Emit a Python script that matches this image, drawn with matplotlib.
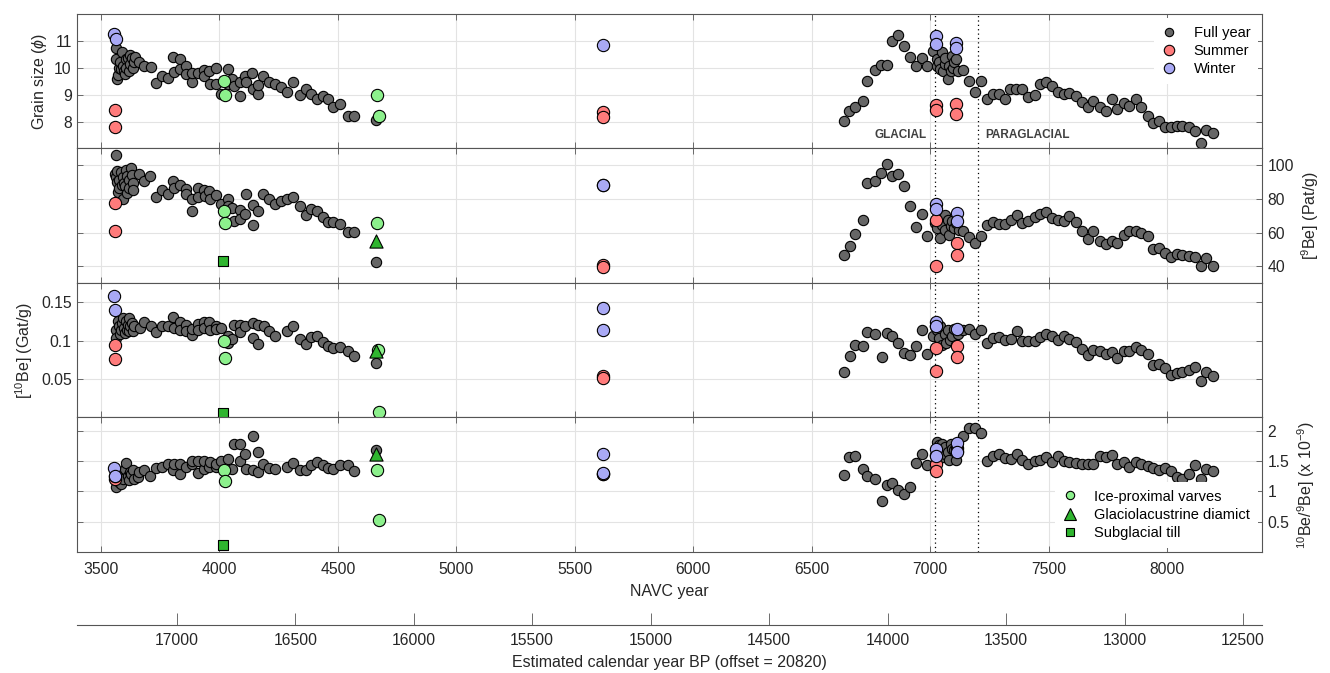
import numpy as np
import matplotlib
matplotlib.use("Agg")
import matplotlib.pyplot as plt
from matplotlib.lines import Line2D
from matplotlib.ticker import FuncFormatter

plt.rcParams['font.family'] = ['Liberation Sans', 'DejaVu Sans']
plt.rcParams['mathtext.fontset'] = 'custom'
plt.rcParams['mathtext.rm'] = 'Liberation Sans'
plt.rcParams['mathtext.it'] = 'Liberation Sans:italic'

OFFSET = 20820
BOUNDARIES = [7020, 7200]

# ---------------- grain size (phi) ----------------
grain_full = np.array([
    (3564, 10.72), (3564, 10.32), (3566, 9.58), (3570, 9.75), (3575, 10.0), (3579, 10.2),
    (3583, 9.95), (3589, 10.59), (3592, 10.07), (3598, 9.89), (3602, 9.77), (3604, 10.32),
    (3607, 10.01), (3613, 10.38), (3617, 9.89), (3621, 10.14), (3623, 10.47), (3630, 10.38),
    (3636, 10.01), (3640, 10.23), (3645, 10.4), (3660, 10.2), (3683, 10.07), (3711, 10.04),
    (3734, 9.43), (3758, 9.68), (3783, 9.62), (3806, 10.42), (3809, 9.83), (3834, 10.32),
    (3834, 9.95), (3859, 10.07), (3859, 9.77), (3885, 9.46), (3885, 9.8), (3909, 9.8),
    (3934, 9.93), (3934, 9.68), (3957, 9.89), (3960, 9.4), (3985, 9.99), (3985, 9.4),
    (4008, 9.02), (4036, 9.95), (4036, 9.4), (4055, 9.58), (4060, 9.31), (4085, 8.96),
    (4085, 9.48), (4108, 9.7), (4112, 9.48), (4136, 9.8), (4140, 9.23), (4164, 9.02),
    (4164, 9.36), (4183, 9.7), (4208, 9.46), (4236, 9.4), (4259, 9.3), (4283, 9.11),
    (4310, 9.49), (4338, 9.0), (4364, 9.21), (4385, 9.02), (4410, 8.84), (4436, 8.94),
    (4460, 8.84), (4481, 8.56), (4508, 8.65), (4542, 8.22), (4566, 8.22), (4660, 8.07),
    (6637, 8.04), (6657, 8.38), (6683, 8.54), (6716, 8.77), (6734, 9.51), (6765, 9.93),
    (6793, 10.12), (6817, 10.12), (6839, 10.98), (6862, 11.23), (6890, 10.81), (6914, 10.42),
    (6940, 10.07), (6963, 10.35), (6987, 10.07), (7013, 10.63), (7028, 10.32), (7030, 10.05),
    (7037, 10.2), (7042, 9.95), (7050, 10.57), (7055, 9.89), (7060, 10.15), (7064, 10.38),
    (7074, 9.58), (7079, 10.07), (7086, 9.89), (7092, 10.44), (7095, 10.0), (7101, 10.2),
    (7110, 10.32), (7115, 9.89), (7138, 9.93), (7165, 9.52), (7187, 9.1), (7215, 9.52),
    (7239, 8.84), (7266, 9.02), (7290, 9.02), (7316, 8.84), (7336, 9.2), (7363, 9.2),
    (7389, 9.2), (7413, 8.9), (7440, 9.0), (7464, 9.4), (7490, 9.46), (7514, 9.31),
    (7538, 9.11), (7563, 9.02), (7587, 9.05), (7615, 8.96), (7639, 8.72), (7666, 8.53),
    (7688, 8.78), (7716, 8.56), (7740, 8.41), (7765, 8.84), (7789, 8.47), (7817, 8.68),
    (7839, 8.57), (7866, 8.84), (7890, 8.53), (7917, 8.22), (7941, 7.95), (7967, 8.04),
    (7991, 7.79), (8015, 7.79), (8040, 7.83), (8064, 7.85), (8092, 7.79), (8116, 7.64),
    (8141, 7.2), (8165, 7.67), (8193, 7.57)])
grain_summer = np.array([(3558, 8.44), (3560, 7.81), (5620, 8.35), (5620, 8.16),
                         (7024, 8.62), (7024, 8.43), (7110, 8.65), (7110, 8.28)])
grain_winter = np.array([(3557, 11.27), (3562, 11.06), (5620, 10.84),
                         (7022, 11.19), (7022, 10.9), (7110, 10.94), (7110, 10.75)])
grain_varve = np.array([(4019, 9.51), (4023, 8.99), (4664, 8.99), (4672, 8.2)])

# ---------------- [9Be] (Pat/g) ----------------
be9_full = np.array([
    (3564, 106.3), (3558, 94.9), (3564, 93.0), (3566, 96.4), (3566, 90.0), (3570, 84.0),
    (3575, 91.5), (3575, 86.5), (3583, 96.0), (3588, 88.0), (3592, 93.0), (3594, 80.2),
    (3598, 89.5), (3600, 87.5), (3606, 97.4), (3610, 83.5), (3611, 93.9), (3617, 91.5),
    (3619, 86.5), (3626, 98.4), (3630, 94.5), (3634, 89.5), (3634, 85.2), (3660, 94.9),
    (3683, 90.5), (3708, 93.9), (3734, 81.0), (3758, 85.2), (3783, 83.2), (3806, 90.5),
    (3809, 86.5), (3834, 88.5), (3859, 85.9), (3859, 83.2), (3885, 80.0), (3885, 72.7),
    (3909, 86.5), (3909, 81.2), (3934, 85.5), (3938, 82.0), (3957, 84.6), (3960, 80.2),
    (3985, 82.6), (4008, 77.2), (4036, 80.0), (4036, 75.6), (4055, 74.7), (4060, 67.1),
    (4085, 73.7), (4085, 68.1), (4108, 71.3), (4112, 83.2), (4140, 76.6), (4140, 64.4),
    (4164, 73.1), (4183, 83.2), (4208, 80.0), (4236, 77.0), (4259, 78.6), (4283, 80.2),
    (4310, 81.2), (4338, 76.0), (4364, 70.7), (4385, 74.3), (4410, 72.7), (4436, 69.1),
    (4460, 66.3), (4481, 66.3), (4508, 64.8), (4542, 60.2), (4566, 60.4), (4660, 42.6),
    (6637, 46.5), (6661, 52.3), (6683, 59.4), (6716, 67.7), (6734, 89.5), (6765, 90.5),
    (6793, 95.4), (6817, 101.0), (6839, 93.5), (6862, 95.0), (6890, 87.5), (6914, 76.0),
    (6940, 63.4), (6963, 71.3), (6987, 57.8), (7018, 65.7), (7028, 62.8), (7037, 67.7),
    (7042, 56.8), (7050, 64.2), (7061, 70.7), (7064, 61.8), (7074, 67.7), (7079, 58.8),
    (7086, 63.8), (7092, 66.7), (7101, 62.8), (7110, 65.7), (7119, 61.8), (7138, 60.8),
    (7165, 57.4), (7187, 53.9), (7215, 58.2), (7239, 64.4), (7266, 66.1), (7290, 65.3),
    (7316, 64.8), (7339, 67.3), (7367, 70.7), (7389, 65.7), (7413, 66.7), (7440, 69.3),
    (7464, 71.3), (7490, 72.1), (7514, 68.7), (7541, 67.7), (7563, 67.1), (7587, 69.7),
    (7615, 66.1), (7639, 60.8), (7666, 56.4), (7688, 60.8), (7716, 54.9), (7740, 53.3),
    (7765, 54.9), (7789, 53.9), (7817, 58.8), (7839, 60.8), (7866, 60.8), (7890, 59.8),
    (7917, 57.8), (7941, 50.5), (7967, 50.9), (7991, 47.9), (8015, 45.5), (8040, 47.5),
    (8064, 46.9), (8092, 46.3), (8116, 45.5), (8141, 40.4), (8165, 44.6), (8193, 40.0)])
be9_summer = np.array([(3560, 77.6), (3558, 60.8), (5620, 41.0), (5620, 39.6),
                       (7022, 67.7), (7024, 40.4), (7112, 53.9), (7112, 46.9)])
be9_winter = np.array([(5620, 88.5), (5620, 88.0), (7022, 77.2), (7024, 74.1),
                       (7112, 71.7), (7112, 66.7)])
be9_varve = np.array([(4019, 73.1), (4023, 65.7), (4664, 65.7)])
be9_diamict = np.array([(4659, 54.9)])
be9_till = np.array([(4013, 43.0)])

# ---------------- [10Be] (Gat/g) ----------------
be10_full = np.array([
    (3564, 0.1135), (3564, 0.1035), (3570, 0.1252), (3575, 0.1187), (3580, 0.108),
    (3583, 0.1143), (3589, 0.123), (3594, 0.1296), (3598, 0.1165), (3600, 0.110),
    (3604, 0.1252), (3608, 0.1143), (3613, 0.1209), (3617, 0.1296), (3620, 0.112),
    (3623, 0.1187), (3630, 0.123), (3636, 0.1122), (3640, 0.1187), (3664, 0.1165),
    (3683, 0.124), (3711, 0.1187), (3734, 0.1108), (3758, 0.1195), (3783, 0.1195),
    (3806, 0.1309), (3809, 0.1165), (3834, 0.124), (3834, 0.1143), (3859, 0.12),
    (3859, 0.113), (3885, 0.1078), (3885, 0.1152), (3909, 0.1217), (3909, 0.1143),
    (3934, 0.124), (3934, 0.1165), (3957, 0.1243), (3960, 0.1143), (3985, 0.1187),
    (3985, 0.115), (4008, 0.1165), (4036, 0.1065), (4036, 0.097), (4055, 0.1022),
    (4060, 0.1209), (4085, 0.1209), (4085, 0.1108), (4108, 0.1187), (4140, 0.1035),
    (4140, 0.123), (4164, 0.1209), (4164, 0.096), (4187, 0.1187), (4211, 0.112),
    (4236, 0.1065), (4283, 0.112), (4310, 0.1195), (4338, 0.1022), (4364, 0.0956),
    (4385, 0.1048), (4410, 0.1065), (4436, 0.0982), (4460, 0.0926), (4481, 0.0904),
    (4508, 0.0917), (4542, 0.0861), (4566, 0.0804), (4660, 0.0708),
    (6637, 0.0591), (6661, 0.0804), (6683, 0.0939), (6716, 0.0926), (6734, 0.1113),
    (6765, 0.1091), (6795, 0.0787), (6817, 0.110), (6839, 0.1056), (6862, 0.0969),
    (6890, 0.0839), (6914, 0.0817), (6940, 0.0935), (6963, 0.1143), (6987, 0.083),
    (7013, 0.1056), (7018, 0.1187), (7028, 0.1143), (7037, 0.1035), (7042, 0.1187),
    (7050, 0.0948), (7061, 0.1087), (7068, 0.0969), (7074, 0.1143), (7083, 0.1013),
    (7092, 0.1065), (7101, 0.1152), (7110, 0.0948), (7115, 0.108), (7138, 0.1143),
    (7165, 0.1152), (7187, 0.1087), (7215, 0.1135), (7239, 0.0969), (7266, 0.1035),
    (7290, 0.1048), (7316, 0.1013), (7339, 0.1026), (7367, 0.113), (7389, 0.100),
    (7413, 0.100), (7440, 0.100), (7464, 0.1048), (7490, 0.1091), (7514, 0.1065),
    (7541, 0.1004), (7563, 0.1056), (7587, 0.1026), (7615, 0.0978), (7639, 0.0891),
    (7666, 0.0817), (7688, 0.0874), (7716, 0.0861), (7740, 0.083), (7765, 0.0848),
    (7789, 0.0774), (7817, 0.0861), (7839, 0.0861), (7866, 0.0913), (7890, 0.0874),
    (7917, 0.083), (7941, 0.0687), (7967, 0.070), (7991, 0.0643), (8015, 0.0556),
    (8040, 0.0578), (8064, 0.0591), (8092, 0.0613), (8116, 0.0652), (8141, 0.0478),
    (8165, 0.0591), (8193, 0.0535)])
be10_summer = np.array([(3560, 0.0939), (3558, 0.0765), (5620, 0.0543), (5620, 0.0508),
                        (7022, 0.0904), (7024, 0.060), (7112, 0.0926), (7112, 0.0782)])
be10_winter = np.array([(3557, 0.1578), (3560, 0.1404), (5620, 0.1426), (5620, 0.1143),
                        (7024, 0.1243), (7022, 0.1187), (7112, 0.1156)])
be10_varve = np.array([(4019, 0.0991), (4023, 0.0774), (4668, 0.0882), (4672, 0.0069)])
be10_diamict = np.array([(4659, 0.0861)])
be10_till = np.array([(4013, 0.0056)])

# ---------------- 10Be/9Be (x 1e-9) ----------------
ratio_full = np.array([
    (3564, 1.071), (3570, 1.236), (3575, 1.153), (3583, 1.12), (3589, 1.291),
    (3594, 1.208), (3602, 1.373), (3607, 1.467), (3612, 1.25), (3617, 1.181),
    (3621, 1.318), (3628, 1.29), (3636, 1.346), (3640, 1.208), (3655, 1.236),
    (3660, 1.318), (3683, 1.36), (3708, 1.26), (3734, 1.39), (3758, 1.41), (3783, 1.45),
    (3806, 1.35), (3809, 1.45), (3834, 1.29), (3834, 1.45), (3859, 1.41), (3885, 1.45),
    (3885, 1.50), (3909, 1.31), (3909, 1.51), (3934, 1.37), (3934, 1.51), (3957, 1.41),
    (3960, 1.48), (3985, 1.40), (3985, 1.46), (4008, 1.51), (4036, 1.54), (4055, 1.37),
    (4060, 1.78), (4085, 1.78), (4085, 1.51), (4108, 1.61), (4112, 1.37), (4140, 1.92),
    (4140, 1.36), (4164, 1.65), (4164, 1.32), (4183, 1.45), (4208, 1.39), (4236, 1.37),
    (4283, 1.40), (4310, 1.47), (4338, 1.36), (4364, 1.36), (4385, 1.43), (4410, 1.48),
    (4436, 1.43), (4460, 1.39), (4481, 1.37), (4508, 1.43), (4542, 1.43), (4566, 1.34),
    (4660, 1.69),
    (6637, 1.27), (6657, 1.56), (6683, 1.59), (6716, 1.37), (6734, 1.25), (6765, 1.21),
    (6795, 0.84), (6817, 1.10), (6839, 1.14), (6862, 1.03), (6890, 0.96), (6914, 1.08),
    (6940, 1.47), (6963, 1.62), (6987, 1.43), (7018, 1.60), (7028, 1.815), (7037, 1.76),
    (7042, 1.677), (7050, 1.787), (7055, 1.566), (7060, 1.62), (7064, 1.732),
    (7074, 1.649), (7079, 1.511), (7086, 1.787), (7092, 1.704), (7101, 1.677),
    (7110, 1.511), (7138, 1.91), (7165, 2.04), (7187, 2.04), (7215, 1.96), (7239, 1.51),
    (7266, 1.59), (7290, 1.62), (7316, 1.55), (7339, 1.54), (7367, 1.62), (7389, 1.52),
    (7413, 1.46), (7440, 1.50), (7464, 1.52), (7490, 1.57), (7514, 1.48), (7541, 1.58),
    (7563, 1.50), (7587, 1.48), (7615, 1.47), (7639, 1.46), (7666, 1.46), (7688, 1.46),
    (7716, 1.59), (7740, 1.57), (7765, 1.60), (7789, 1.46), (7817, 1.48), (7839, 1.40),
    (7866, 1.48), (7890, 1.46), (7917, 1.42), (7941, 1.39), (7967, 1.35), (7991, 1.39),
    (8015, 1.33), (8040, 1.24), (8064, 1.21), (8092, 1.29), (8116, 1.43), (8141, 1.21),
    (8165, 1.37), (8193, 1.33)])
ratio_summer = np.array([(3560, 1.21), (3558, 1.26), (5620, 1.29), (5620, 1.28),
                         (7022, 1.46), (7024, 1.33), (7112, 1.72), (7112, 1.67)])
ratio_winter = np.array([(3557, 1.39), (3560, 1.26), (5620, 1.62), (5620, 1.31),
                         (7024, 1.70), (7022, 1.59), (7112, 1.80), (7112, 1.65)])
ratio_varve = np.array([(4019, 1.36), (4023, 1.18), (4664, 1.36), (4672, 0.52)])
ratio_diamict = np.array([(4659, 1.61)])
ratio_till = np.array([(4013, 0.11)])

C_FULL = '#666666'
C_SUMMER = '#ff7b7b'
C_WINTER = '#a9a9f5'
C_VARVE = '#8cf08c'
C_GREEN = '#2fb52f'
AX_COL = '#555555'


def scatter(ax, pts, color, s, marker='o'):
    if pts is None or len(pts) == 0:
        return
    ax.scatter(pts[:, 0], pts[:, 1], s=s, c=color, marker=marker,
               edgecolors='k', linewidths=0.8, zorder=3)


panels = [
    dict(full=grain_full, summer=grain_summer, winter=grain_winter, varve=grain_varve,
         diamict=None, till=None, ylim=(7, 12), yticks=[8, 9, 10, 11],
         label=r'Grain size ($\phi$)', side='left'),
    dict(full=be9_full, summer=be9_summer, winter=be9_winter, varve=be9_varve,
         diamict=be9_diamict, till=be9_till, ylim=(30, 110), yticks=[40, 60, 80, 100],
         label=r'[$^{9}$Be] (Pat/g)', side='right'),
    dict(full=be10_full, summer=be10_summer, winter=be10_winter, varve=be10_varve,
         diamict=be10_diamict, till=be10_till, ylim=(0, 0.175), yticks=[0.05, 0.1, 0.15],
         label=r'[$^{10}$Be] (Gat/g)', side='left'),
    dict(full=ratio_full, summer=ratio_summer, winter=ratio_winter, varve=ratio_varve,
         diamict=ratio_diamict, till=ratio_till, ylim=(0, 2.22), yticks=[0.5, 1, 1.5, 2],
         label=r'$^{10}$Be/$^{9}$Be] (x 10$^{-9}$)', side='right'),
]

fig = plt.figure(figsize=(13.3, 6.73), dpi=100)
left, width = 0.0581, 0.8908
h = 0.19985
axes = []
for i, p in enumerate(panels):
    ax = fig.add_axes([left, 0.1798 + (3 - i) * h, width, h])
    axes.append(ax)
    scatter(ax, p['full'], C_FULL, 55)
    scatter(ax, p['summer'], C_SUMMER, 78)
    scatter(ax, p['winter'], C_WINTER, 78)
    scatter(ax, p['varve'], C_VARVE, 78)
    scatter(ax, p['diamict'], C_GREEN, 90, marker='^')
    scatter(ax, p['till'], C_GREEN, 55, marker='s')
    for b in BOUNDARIES:
        ax.axvline(b, color='k', ls=(0, (1, 2.5)), lw=0.9, zorder=2)

    ax.set_xlim(3400, 8400)
    ax.set_xticks(np.arange(3500, 8001, 500))
    ax.set_ylim(*p['ylim'])
    ax.set_yticks(p['yticks'])
    ax.yaxis.set_major_formatter(FuncFormatter(lambda v, pos: '%g' % v))
    ax.grid(True, color='#e3e3e3', lw=0.8, zorder=0)
    ax.set_axisbelow(True)
    for sp in ax.spines.values():
        sp.set_color(AX_COL)
        sp.set_linewidth(0.8)
    ax.tick_params(axis='both', direction='in', top=True, bottom=True, left=True,
                   right=True, length=4.5, width=0.6, color=AX_COL,
                   labelsize=11.3, labelcolor='#262626', pad=4)
    ax.tick_params(axis='x', labelbottom=(i == 3), pad=7)
    if p['side'] == 'right':
        ax.tick_params(axis='y', labelleft=False, labelright=True)
        ax.yaxis.set_label_position('right')
    ax.set_ylabel(p['label'], fontsize=11.5, color='#262626')

ax1, ax4 = axes[0], axes[3]

ax1.text(BOUNDARIES[0] - 35, 7.5, 'GLACIAL', ha='right', va='center',
         fontsize=8.5, fontweight='bold', color='#404040')
ax1.text(BOUNDARIES[1] + 33, 7.5, 'PARAGLACIAL', ha='left', va='center',
         fontsize=8.5, fontweight='bold', color='#404040')

h_top = [
    Line2D([], [], ls='none', marker='o', ms=6, mfc=C_FULL, mec='k', mew=0.8),
    Line2D([], [], ls='none', marker='o', ms=7.5, mfc=C_SUMMER, mec='k', mew=0.8),
    Line2D([], [], ls='none', marker='o', ms=7.5, mfc=C_WINTER, mec='k', mew=0.8),
]
leg1 = ax1.legend(h_top, ['Full year', 'Summer', 'Winter'], loc='upper right',
                  fontsize=10.5, handlelength=1.0, handletextpad=1.2,
                  labelspacing=0.3, borderpad=0.5, borderaxespad=0.3,
                  frameon=True, facecolor='white', edgecolor='none', framealpha=1)
leg1.set_zorder(5)

h_bot = [
    Line2D([], [], ls='none', marker='o', ms=6, mfc=C_VARVE, mec='k', mew=0.8),
    Line2D([], [], ls='none', marker='^', ms=8, mfc=C_GREEN, mec='k', mew=0.8),
    Line2D([], [], ls='none', marker='s', ms=6, mfc=C_GREEN, mec='k', mew=0.8),
]
leg2 = ax4.legend(h_bot, ['Ice-proximal varves', 'Glaciolacustrine diamict', 'Subglacial till'],
                  loc='lower right', fontsize=10.5, handlelength=1.0, handletextpad=1.2,
                  labelspacing=0.3, borderpad=0.5, borderaxespad=0.3,
                  frameon=True, facecolor='white', edgecolor='none', framealpha=1)
leg2.set_zorder(5)

ax4.set_xlabel('NAVC year', fontsize=11.5, color='#262626', labelpad=5)


def to_bp(x):
    return OFFSET - x


sec = ax4.secondary_xaxis(-0.541, functions=(to_bp, to_bp))
sec.set_xticks(np.arange(17000, 12499, -500))
sec.tick_params(direction='in', length=9, width=0.6, color=AX_COL, pad=6,
                labelsize=11.3, labelcolor='#262626')
sec.spines['bottom'].set_color(AX_COL)
sec.spines['bottom'].set_linewidth(0.8)
sec.set_xlabel('Estimated calendar year BP (offset = 20820)', fontsize=11.5,
               color='#262626', labelpad=5)

fig.savefig('out.png', dpi=100)
